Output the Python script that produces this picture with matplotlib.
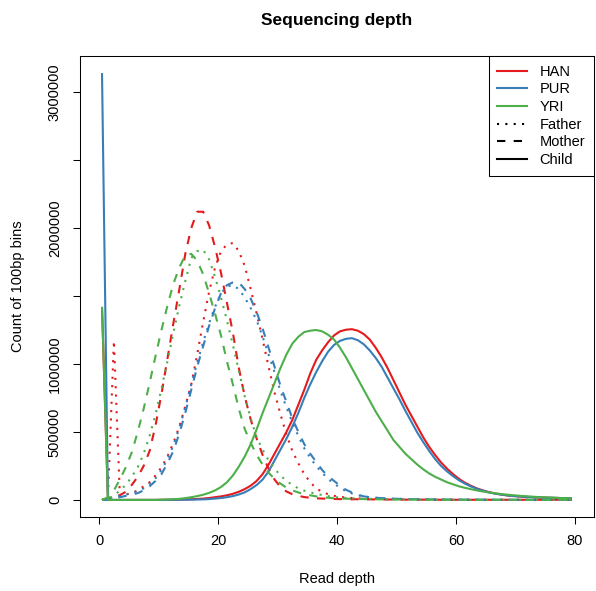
import numpy as np
import matplotlib
matplotlib.use("Agg")
import matplotlib.pyplot as plt
from matplotlib.lines import Line2D

plt.rcParams['font.family'] = ['Liberation Sans', 'DejaVu Sans']

# depth bins (bin centres)
depth = np.arange(80) + 0.5

# counts of 100bp bins, in millions
han_father = [0.0, 0.02, 1.17, 0.03, 0.04, 0.05, 0.07, 0.10, 0.13, 0.18,
              0.24, 0.32, 0.42, 0.54, 0.69, 0.85, 1.07, 1.31, 1.53, 1.71,
              1.83, 1.88, 1.89, 1.83, 1.72, 1.55, 1.37, 1.18, 0.98, 0.79,
              0.63, 0.48, 0.36, 0.27, 0.19, 0.13, 0.085, 0.06, 0.042, 0.03,
              0.023, 0.018, 0.014, 0.012, 0.01, 0.009, 0.008, 0.007, 0.006, 0.005,
              0.005, 0.004, 0.004, 0.003, 0.003, 0.003, 0.002, 0.002, 0.002, 0.002,
              0.002, 0.001, 0.001, 0.001, 0.001, 0.001, 0.001, 0.001, 0.001, 0.001,
              0.001, 0.001, 0.001, 0.001, 0.001, 0.001, 0.001, 0.001, 0.001, 0.001]
han_mother = [0.0, 0.01, 0.02, 0.035, 0.06, 0.11, 0.17, 0.25, 0.36, 0.55,
              0.78, 1.04, 1.30, 1.55, 1.81, 2.00, 2.12, 2.12, 2.02, 1.86,
              1.67, 1.45, 1.23, 0.97, 0.76, 0.59, 0.45, 0.33, 0.23, 0.15,
              0.095, 0.062, 0.042, 0.03, 0.021, 0.016, 0.012, 0.01, 0.008, 0.007,
              0.006, 0.006, 0.005, 0.005, 0.004, 0.004, 0.004, 0.003, 0.003, 0.003,
              0.003, 0.002, 0.002, 0.002, 0.002, 0.002, 0.002, 0.001, 0.001, 0.001,
              0.001, 0.001, 0.001, 0.001, 0.001, 0.001, 0.001, 0.001, 0.001, 0.001,
              0.001, 0.001, 0.001, 0.001, 0.001, 0.001, 0.001, 0.001, 0.001, 0.001]
han_child = [1.42, 0, 0, 0, 0, 0, 0, 0, 0, 0,
             0.001, 0.001, 0.002, 0.002, 0.003, 0.005, 0.007, 0.01, 0.014, 0.02,
             0.026, 0.034, 0.045, 0.06, 0.08, 0.105, 0.14, 0.19, 0.26, 0.34,
             0.42, 0.50, 0.59, 0.70, 0.81, 0.93, 1.03, 1.10, 1.16, 1.21,
             1.24, 1.252, 1.256, 1.245, 1.22, 1.18, 1.12, 1.05, 0.97, 0.88,
             0.79, 0.70, 0.62, 0.54, 0.46, 0.39, 0.33, 0.275, 0.23, 0.19,
             0.155, 0.127, 0.104, 0.085, 0.07, 0.058, 0.048, 0.04, 0.034, 0.029,
             0.026, 0.023, 0.021, 0.019, 0.017, 0.016, 0.015, 0.014, 0.013, 0.012]

pur_father = [0.0, 0.01, 0.02, 0.03, 0.04, 0.05, 0.065, 0.085, 0.12, 0.16,
              0.22, 0.30, 0.40, 0.53, 0.68, 0.85, 1.01, 1.16, 1.30, 1.42,
              1.52, 1.57, 1.58, 1.55, 1.49, 1.41, 1.32, 1.20, 1.07, 0.94,
              0.80, 0.68, 0.57, 0.47, 0.38, 0.31, 0.25, 0.20, 0.155, 0.12,
              0.09, 0.065, 0.048, 0.035, 0.026, 0.02, 0.016, 0.013, 0.011, 0.009,
              0.008, 0.007, 0.006, 0.005, 0.004, 0.004, 0.003, 0.003, 0.003, 0.002,
              0.002, 0.002, 0.002, 0.002, 0.001, 0.001, 0.001, 0.001, 0.001, 0.001,
              0.001, 0.001, 0.001, 0.001, 0.001, 0.001, 0.001, 0.001, 0.001, 0.001]
pur_mother = [0.0, 0.0, 0.01, 0.02, 0.03, 0.04, 0.05, 0.07, 0.10, 0.14,
              0.19, 0.27, 0.36, 0.49, 0.64, 0.81, 0.98, 1.13, 1.28, 1.41,
              1.52, 1.58, 1.60, 1.60, 1.55, 1.48, 1.38, 1.26, 1.12, 0.98,
              0.84, 0.72, 0.60, 0.50, 0.41, 0.34, 0.28, 0.22, 0.175, 0.14,
              0.105, 0.075, 0.055, 0.038, 0.026, 0.02, 0.016, 0.013, 0.011, 0.009,
              0.008, 0.007, 0.006, 0.005, 0.005, 0.004, 0.004, 0.003, 0.003, 0.003,
              0.002, 0.002, 0.002, 0.002, 0.002, 0.001, 0.001, 0.001, 0.001, 0.001,
              0.001, 0.001, 0.001, 0.001, 0.001, 0.001, 0.001, 0.001, 0.001, 0.001]
pur_child = [3.14, 0, 0, 0, 0, 0, 0, 0, 0, 0,
             0, 0.001, 0.001, 0.001, 0.002, 0.002, 0.003, 0.004, 0.006, 0.01,
             0.014, 0.02, 0.028, 0.04, 0.056, 0.08, 0.11, 0.15, 0.21, 0.29,
             0.37, 0.45, 0.54, 0.64, 0.75, 0.85, 0.94, 1.02, 1.09, 1.14,
             1.17, 1.185, 1.19, 1.175, 1.145, 1.10, 1.045, 0.98, 0.90, 0.82,
             0.74, 0.655, 0.575, 0.495, 0.425, 0.36, 0.30, 0.25, 0.21, 0.175,
             0.145, 0.12, 0.099, 0.082, 0.068, 0.056, 0.047, 0.04, 0.034, 0.029,
             0.026, 0.023, 0.021, 0.019, 0.017, 0.016, 0.015, 0.014, 0.013, 0.012]

yri_father = [0.0, 0.01, 0.03, 0.07, 0.11, 0.17, 0.24, 0.34, 0.47, 0.63,
              0.82, 1.02, 1.23, 1.43, 1.61, 1.78, 1.83, 1.84, 1.77, 1.64,
              1.49, 1.32, 1.14, 0.95, 0.76, 0.60, 0.46, 0.37, 0.29, 0.23,
              0.18, 0.14, 0.11, 0.085, 0.068, 0.055, 0.045, 0.036, 0.028, 0.022,
              0.017, 0.014, 0.012, 0.01, 0.009, 0.008, 0.007, 0.006, 0.005, 0.005,
              0.004, 0.004, 0.003, 0.003, 0.003, 0.002, 0.002, 0.002, 0.002, 0.002,
              0.001, 0.001, 0.001, 0.001, 0.001, 0.001, 0.001, 0.001, 0.001, 0.001,
              0.001, 0.001, 0.001, 0.001, 0.001, 0.001, 0.001, 0.001, 0.001, 0.001]
yri_mother = [0.0, 0.02, 0.07, 0.15, 0.24, 0.35, 0.50, 0.67, 0.86, 1.06,
              1.25, 1.43, 1.59, 1.71, 1.80, 1.81, 1.76, 1.66, 1.52, 1.37,
              1.21, 1.02, 0.85, 0.67, 0.52, 0.42, 0.33, 0.26, 0.20, 0.155,
              0.12, 0.09, 0.07, 0.055, 0.043, 0.034, 0.026, 0.02, 0.016, 0.012,
              0.01, 0.009, 0.008, 0.007, 0.006, 0.005, 0.005, 0.004, 0.004, 0.003,
              0.003, 0.003, 0.003, 0.002, 0.002, 0.002, 0.002, 0.002, 0.001, 0.001,
              0.001, 0.001, 0.001, 0.001, 0.001, 0.001, 0.001, 0.001, 0.001, 0.001,
              0.001, 0.001, 0.001, 0.001, 0.001, 0.001, 0.001, 0.001, 0.001, 0.001]
yri_child = [1.42, 0, 0, 0, 0, 0, 0, 0, 0, 0,
             0.002, 0.003, 0.005, 0.008, 0.013, 0.02, 0.028, 0.038, 0.052, 0.07,
             0.095, 0.13, 0.18, 0.245, 0.32, 0.41, 0.52, 0.64, 0.75, 0.86,
             0.97, 1.07, 1.15, 1.20, 1.235, 1.245, 1.25, 1.24, 1.215, 1.18,
             1.12, 1.05, 0.97, 0.89, 0.81, 0.73, 0.65, 0.58, 0.51, 0.44,
             0.39, 0.34, 0.30, 0.26, 0.225, 0.195, 0.17, 0.15, 0.13, 0.115,
             0.10, 0.089, 0.079, 0.07, 0.062, 0.055, 0.049, 0.044, 0.039, 0.035,
             0.031, 0.028, 0.025, 0.022, 0.02, 0.018, 0.016, 0.014, 0.013, 0.012]

families = ["HAN", "PUR", "YRI"]
family_colors = ["#E41A1C", "#377EB8", "#4DAF4A"]
members = ["Father", "Mother", "Child"]
member_styles = [(0, (1, 3)), (0, (4, 4)), "solid"]
series = {
    "HAN": [han_father, han_mother, han_child],
    "PUR": [pur_father, pur_mother, pur_child],
    "YRI": [yri_father, yri_mother, yri_child],
}

W, H = 596, 591
fig = plt.figure(figsize=(W / 100, H / 100), dpi=100)
L, R, T, B = 80, 594, 56, 517
ax = fig.add_axes([L / W, (H - B) / H, (R - L) / W, (B - T) / H])

for fam, col in zip(families, family_colors):
    for vals, ls in zip(series[fam], member_styles):
        ax.plot(depth, np.array(vals) * 1e6, color=col, lw=1.5, linestyle=ls,
                dash_capstyle='butt', solid_capstyle='butt')

ax.set_xlim(-3.2, 83.2)
ax.set_ylim(-0.1256e6, 3.2656e6)

ax.set_xticks([0, 20, 40, 60, 80])
ax.set_xticklabels(["0", "20", "40", "60", "80"])
yt = [0, 500000, 1000000, 1500000, 2000000, 2500000, 3000000]
ax.set_yticks(yt)
ax.set_yticklabels(["0", "500000", "1000000", "", "2000000", "", "3000000"],
                   rotation=90, va='center')
ax.tick_params(axis='both', direction='out', length=5, width=0.75,
               labelsize=10.5, colors='black')
ax.tick_params(axis='x', pad=7)
ax.tick_params(axis='y', pad=8)
for s in ax.spines.values():
    s.set_linewidth(0.75)
    s.set_color('black')

fig.text(0.5 * (L + R) / W, 1 - 20 / H, "Sequencing depth", ha='center',
         va='center', fontsize=12.5, fontweight='bold')
fig.text(0.5 * (L + R) / W, 1 - 579 / H, "Read depth", ha='center',
         va='center', fontsize=10.5)
fig.text(18 / W, 1 - 0.5 * (T + B) / H, "Count of 100bp bins", ha='center',
         va='center', rotation=90, fontsize=10.5)

handles = [Line2D([], [], color=c, lw=1.5) for c in family_colors]
handles += [Line2D([], [], color='black', lw=1.5, linestyle=ls,
                   dash_capstyle='butt') for ls in member_styles]
leg = ax.legend(handles, families + members, loc='upper right',
                borderaxespad=0, fontsize=10.5, frameon=True, fancybox=False,
                edgecolor='black', framealpha=1, handlelength=2.0,
                handletextpad=0.9, labelspacing=0.25, borderpad=0.6)
leg.get_frame().set_linewidth(0.75)

fig.savefig("out.png", dpi=100)
